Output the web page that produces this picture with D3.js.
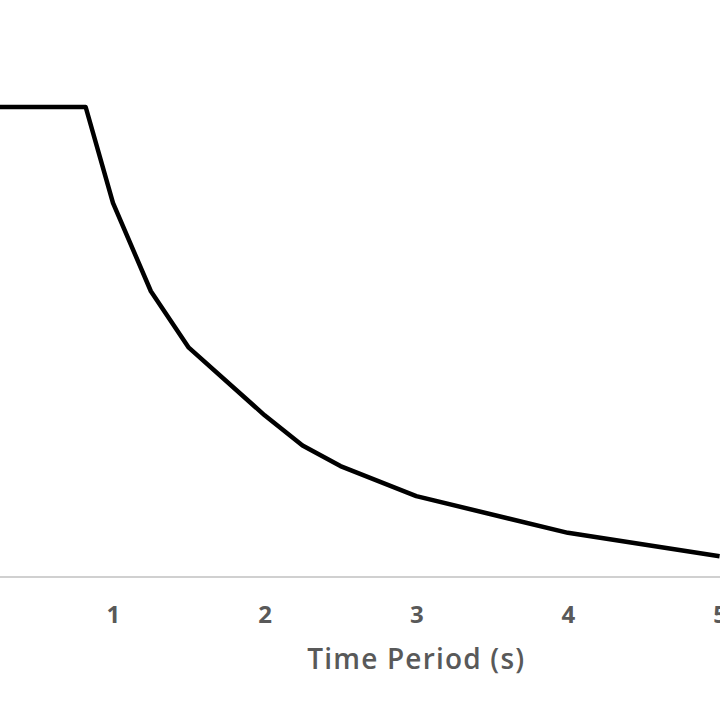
<!DOCTYPE html>
<html>
<head>
<meta charset="utf-8">
<script src="https://cdn.jsdelivr.net/npm/d3@7"></script>
<style>
    body { margin: 0; background: #fff; }
    #chart { width: 720px; height: 720px; overflow: hidden; }
    .axis text { font-family: "Open Sans", sans-serif; fill: #595959; }
</style>
</head>
<body>
<div id="chart"></div>
<script>
// spectrum data: time period (s) and spectral value
let periods = [0, 0.82, 1.0, 1.25, 1.5, 2.0, 2.25, 2.5, 3.0, 4.0, 5.0];
let spectrum = [2.5, 2.5, 1.99, 1.52, 1.22, 0.86, 0.70, 0.59, 0.43, 0.235, 0.11];
let tickLabels = [1, 2, 3, 4, 5];
let xTitle = 'Time Period (s)';

let width = 720, height = 720;

let svg = d3.select('#chart').append('svg')
    .attr('width', width)
    .attr('height', height);

// the chart is cropped on the left, so T=0 falls just outside the frame
let x = d3.scaleLinear()
    .domain([0, 5])
    .range([-38.7, 719.6]);

let y = d3.scaleLinear()
    .domain([0, 2.5])
    .range([577, 107]);

// x axis: grey baseline across the whole frame, no tick marks
svg.append('line')
    .attr('x1', 0)
    .attr('x2', width)
    .attr('y1', y(0))
    .attr('y2', y(0))
    .attr('stroke', '#d0d0d0')
    .attr('stroke-width', 2);

let xAxis = d3.axisBottom(x)
    .tickValues(tickLabels)
    .tickSize(0)
    .tickPadding(0)
    .tickFormat(d3.format('d'));

let xAxisGroup = svg.append('g')
    .attr('class', 'axis')
    .attr('transform', `translate(0, ${y(0)})`)
    .call(xAxis);

xAxisGroup.select('.domain').remove();
xAxisGroup.selectAll('text')
    .attr('dy', null)
    .attr('y', 46)
    .style('font-size', '24px')
    .style('font-weight', 700)
    .attr('fill', '#555');

svg.append('text')
    .attr('class', 'axis')
    .attr('x', x(3))
    .attr('y', 669)
    .attr('text-anchor', 'middle')
    .style('font-family', '"Open Sans", sans-serif')
    .style('font-size', '28px')
    .style('font-weight', 600)
    .style('letter-spacing', '1.2px')
    .attr('fill', '#595959')
    .text(xTitle);

// the spectrum line
let line = d3.line()
    .x((d, i) => x(periods[i]))
    .y(d => y(d));

svg.append('path')
    .datum(spectrum)
    .attr('fill', 'none')
    .attr('stroke', '#000')
    .attr('stroke-width', 4.5)
    .attr('stroke-linejoin', 'round')
    .attr('d', line);
</script>
</body>
</html>
